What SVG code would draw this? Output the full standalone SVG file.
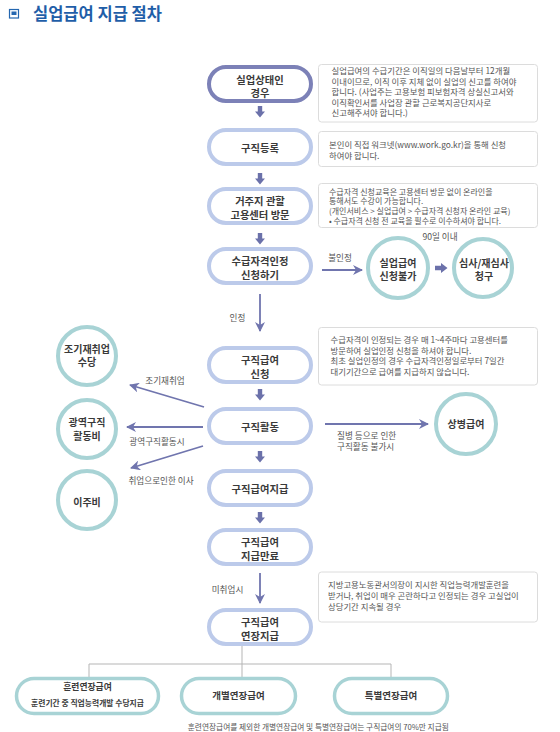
<svg xmlns="http://www.w3.org/2000/svg" width="560" height="732" viewBox="0 0 560 732">
<defs>
<style>
text { font-family: "Noto Sans CJK KR", "Noto Sans", sans-serif; }
.pill { fill:#fff; stroke:#bccaea; stroke-width:4; }
.pilld { fill:#fff; stroke:#7c81b7; stroke-width:4; }
.circ { fill:#fff; stroke:#a8d3d5; stroke-width:4; }
.bpill { fill:#fff; stroke:#a8d3d5; stroke-width:3.5; }
.box { fill:#fff; stroke:#dcdcdc; stroke-width:1; }
.nt { font-size:10.3px; font-weight:bold; fill:#3a3a3a; text-anchor:middle; }
.ct { font-size:10px; font-weight:bold; fill:#3a3a3a; text-anchor:middle; }
.bt { font-size:8.4px; fill:#555; }
.bt3 { font-size:8px; fill:#555; }
.lb { font-size:8.6px; fill:#555; }
.lbc { font-size:8.6px; fill:#555; text-anchor:middle; }
.conn { stroke:#7075ae; stroke-width:1.8; fill:none; marker-end:url(#ah); }
.blk { fill:#6b71aa; }
.tree { stroke:#b5b5b5; stroke-width:1; fill:none; }
</style>
<marker id="ah" viewBox="0 0 10 10" refX="9" refY="5" markerWidth="10" markerHeight="10" markerUnits="userSpaceOnUse" orient="auto">
<path d="M0,0 L10,5 L0,10 L3,5 Z" fill="#7075ae"/>
</marker>
</defs>
<rect width="560" height="732" fill="#fff"/>

<g id="title">
<rect x="9.5" y="9.5" width="9" height="8.5" fill="none" stroke="#2467b0" stroke-width="1.2"/>
<rect x="11.5" y="11.5" width="5" height="3.5" fill="#2467b0"/>
<text x="33" y="19.5" font-size="16.5" font-weight="bold" fill="#1f5ea8">실업급여 지급 절차</text>
</g>

<g id="connectors">
<path class="blk" d="M257.8,106 h4.4 v5.5 h2.8 l-5,6 l-5,-6 h2.8 z"/>
<path class="blk" d="M257.8,173 h4.4 v5.5 h2.8 l-5,6 l-5,-6 h2.8 z"/>
<path class="blk" d="M257.8,233 h4.4 v5.5 h2.8 l-5,6 l-5,-6 h2.8 z"/>
<path class="blk" d="M257.8,389 h4.4 v5.5 h2.8 l-5,6 l-5,-6 h2.8 z"/>
<path class="blk" d="M257.8,451 h4.4 v5.5 h2.8 l-5,6 l-5,-6 h2.8 z"/>
<path class="blk" d="M257.8,512 h4.4 v5.5 h2.8 l-5,6 l-5,-6 h2.8 z"/>
<path class="blk" d="M435,265.8 h6 v-2.8 l6.5,5 l-6.5,5 v-2.8 h-6 z"/>
<line class="conn" x1="322" y1="270" x2="362" y2="270"/>
<line class="conn" x1="260" y1="294" x2="260" y2="331"/>
<line class="conn" x1="204" y1="407" x2="130" y2="385"/>
<line class="conn" x1="203" y1="427" x2="127" y2="427"/>
<line class="conn" x1="203" y1="446" x2="131" y2="468"/>
<line class="conn" x1="325" y1="424" x2="428" y2="424"/>
<line class="conn" x1="260" y1="573" x2="260" y2="603"/>
<path class="tree" d="M242,646 V677 M89,664 H391 M89,664 V678 M391,664 V678"/>
<text class="lbc" x="340" y="260.5">불인정</text>
<text class="lbc" x="440" y="240">90일 이내</text>
<text class="lbc" x="237.5" y="321">인정</text>
<text class="lbc" x="165" y="384">조기재취업</text>
<text class="lbc" x="157" y="445">광역구직활동시</text>
<text class="lbc" x="161" y="484">취업으로인한 이사</text>
<text class="lb"><tspan x="337" y="438.5">질병 등으로 인한</tspan><tspan x="337" y="450">구직활동 불가시</tspan></text>
<text class="lbc" x="227.5" y="593">미취업시</text>
</g>

<g id="n1"><rect class="pilld" x="209" y="67" width="102" height="34" rx="17"/>
<text class="nt"><tspan x="260" y="83.5">실업상태인</tspan><tspan x="260" y="97">경우</tspan></text></g>
<g id="n2"><rect class="pill" x="209" y="130" width="102" height="34" rx="17"/>
<text class="nt" x="260" y="152">구직등록</text></g>
<g id="n3"><rect class="pill" x="209" y="189" width="102" height="34" rx="17"/>
<text class="nt"><tspan x="260" y="205">거주지 관할</tspan><tspan x="260" y="218.5">고용센터 방문</tspan></text></g>
<g id="n4"><rect class="pill" x="209" y="249" width="102" height="34" rx="17"/>
<text class="nt"><tspan x="260" y="265">수급자격인정</tspan><tspan x="260" y="278.5">신청하기</tspan></text></g>
<g id="n5"><rect class="pill" x="209" y="348" width="102" height="34" rx="17"/>
<text class="nt"><tspan x="260" y="364">구직급여</tspan><tspan x="260" y="377.5">신청</tspan></text></g>
<g id="n6"><rect class="pill" x="209" y="409" width="102" height="34" rx="17"/>
<text class="nt" x="260" y="431">구직활동</text></g>
<g id="n7"><rect class="pill" x="209" y="471" width="102" height="34" rx="17"/>
<text class="nt" x="260" y="493">구직급여지급</text></g>
<g id="n8"><rect class="pill" x="209" y="530" width="102" height="34" rx="17"/>
<text class="nt"><tspan x="260" y="546">구직급여</tspan><tspan x="260" y="559.5">지급만료</tspan></text></g>
<g id="n9"><rect class="pill" x="209" y="610" width="102" height="34" rx="17"/>
<text class="nt"><tspan x="260" y="626">구직급여</tspan><tspan x="260" y="639.5">연장지급</tspan></text></g>

<g id="c-reject"><circle class="circ" cx="398" cy="268" r="30"/>
<text class="ct"><tspan x="398" y="266.5">실업급여</tspan><tspan x="398" y="280">신청불가</tspan></text></g>
<g id="c-review"><circle class="circ" cx="483" cy="268" r="29"/>
<text class="ct"><tspan x="484" y="266.5">심사/재심사</tspan><tspan x="484" y="280">청구</tspan></text></g>
<g id="c-early"><circle class="circ" cx="87" cy="356" r="29"/>
<text class="ct"><tspan x="87" y="352.5">조기재취업</tspan><tspan x="87" y="366">수당</tspan></text></g>
<g id="c-wide"><circle class="circ" cx="87" cy="429" r="29"/>
<text class="ct"><tspan x="87" y="426">광역구직</tspan><tspan x="87" y="439.5">활동비</tspan></text></g>
<g id="c-move"><circle class="circ" cx="87" cy="500" r="29"/>
<text class="ct" x="87" y="505.5">이주비</text></g>
<g id="c-sick"><circle class="circ" cx="466" cy="424" r="30"/>
<text class="ct" x="466" y="428">상병급여</text></g>

<g id="b1"><rect class="box" x="318.5" y="64.5" width="219" height="57.5" rx="3"/>
<text class="bt"><tspan x="331.5" y="74">실업급여의 수급기간은 이직일의 다음날부터 12개월</tspan><tspan x="331.5" y="84.5">이내이므로, 이직 이후 지체 없이 실업의 신고를 하여야</tspan><tspan x="331.5" y="95">합니다. (사업주는 고용보험 피보험자격 상실신고서와</tspan><tspan x="331.5" y="105.5">이직확인서를 사업장 관할 근로복지공단지사로</tspan><tspan x="331.5" y="116">신고해주셔야 합니다.)</tspan></text></g>
<g id="b2"><rect class="box" x="318.5" y="131.5" width="219" height="35" rx="3"/>
<text class="bt"><tspan x="329" y="147.5">본인이 직접 워크넷(www.work.go.kr)을 통해 신청</tspan><tspan x="329" y="158.5">하여야 합니다.</tspan></text></g>
<g id="b3"><rect class="box" x="318.5" y="183.5" width="219" height="44" rx="3"/>
<text class="bt3"><tspan x="329" y="194.5">수급자격 신청교육은 고용센터 방문 없이 온라인을</tspan><tspan x="329" y="204.3">통해서도 수강이 가능합니다.</tspan><tspan x="329" y="214.1">(개인서비스 &gt; 실업급여 &gt; 수급자격 신청자 온라인 교육)</tspan><tspan x="329" y="223.9">• 수급자격 신청 전 교육을 필수로 이수하셔야 합니다.</tspan></text></g>
<g id="b4"><rect class="box" x="318.5" y="327.5" width="219" height="57.5" rx="3"/>
<text class="bt"><tspan x="330.5" y="343">수급자격이 인정되는 경우 매 1~4주마다 고용센터를</tspan><tspan x="330.5" y="353.7">방문하여 실업인정 신청을 하셔야 합니다.</tspan><tspan x="330.5" y="364.4">최초 실업인정의 경우 수급자격인정일로부터 7일간</tspan><tspan x="330.5" y="375.1">대기기간으로 급여를 지급하지 않습니다.</tspan></text></g>
<g id="b5"><rect class="box" x="318.5" y="572" width="219" height="50" rx="3"/>
<text class="bt"><tspan x="328" y="588.2">지방고용노동관서의장이 지시한 직업능력개발훈련을</tspan><tspan x="328" y="599.1">받거나, 취업이 매우 곤란하다고 인정되는 경우 고실업이</tspan><tspan x="328" y="610">상당기간 지속될 경우</tspan></text></g>

<g id="e1"><rect class="bpill" x="16.5" y="678.5" width="142" height="35" rx="17.5"/>
<text class="nt"><tspan x="87.5" y="690" style="font-size:8.8px">훈련연장급여</tspan><tspan x="87.5" y="705.8" style="font-size:7.8px">훈련기간 중 직업능력개발 수당지급</tspan></text></g>
<g id="e2"><rect class="bpill" x="181.5" y="678.5" width="114" height="35" rx="17.5"/>
<text class="nt" x="238.5" y="699" style="font-size:9.5px">개별연장급여</text></g>
<g id="e3"><rect class="bpill" x="334.5" y="678.5" width="113" height="35" rx="17.5"/>
<text class="nt" x="391" y="699" style="font-size:9.5px">특별연장급여</text></g>
<text x="318.3" y="730" font-size="7.7" fill="#555" text-anchor="middle">훈련연장급여를 제외한 개별연장급여 및 특별연장급여는 구직급여의 70%만 지급됨</text>
</svg>
